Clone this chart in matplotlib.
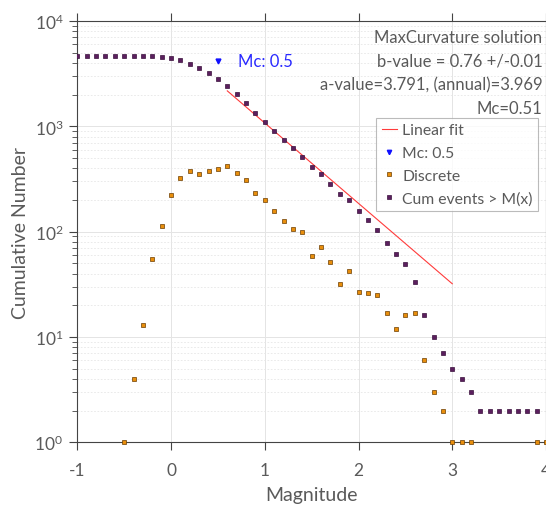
import numpy as np
import matplotlib
matplotlib.use("Agg")
import matplotlib.pyplot as plt
from matplotlib.ticker import LogLocator, NullFormatter

# =====================================
# Data
# =====================================

magnitude = np.round(np.arange(-1.0, 3.95, 0.1), 1)

cum_events = [
    4673, 4673, 4673, 4673, 4673, 4673, 4672, 4668, 4655, 4600,
    4486, 4263, 3937, 3560, 3207, 2827, 2430, 2012, 1650, 1338,
    1103, 903, 745, 618, 512, 413, 354, 282, 230, 198,
    156, 129, 103, 78, 61, 49, 33, 16, 10, 7,
    5, 4, 3, 2, 2, 2, 2, 2, 2, 2,
]

disc_mag = [
    -0.5, -0.4, -0.3, -0.2, -0.1, 0.0, 0.1, 0.2, 0.3, 0.4,
    0.5, 0.6, 0.7, 0.8, 0.9, 1.0, 1.1, 1.2, 1.3, 1.4,
    1.5, 1.6, 1.7, 1.8, 1.9, 2.0, 2.1, 2.2, 2.3, 2.4,
    2.5, 2.6, 2.7, 2.8, 2.9, 3.0, 3.1, 3.2, 3.9, 4.0,
]
disc_events = [
    1, 4, 13, 55, 114, 223, 326, 377, 353, 380,
    397, 418, 362, 312, 235, 200, 158, 127, 106, 99,
    59, 72, 52, 32, 42, 27, 26, 25, 17, 12,
    16, 17, 6, 3, 2, 1, 1, 1, 1, 1,
]

fit_mag = [0.6, 3.0]
fit_events = [2170, 32]

mc_mag = [0.5]
mc_events = [4200]

info_lines = [
    "MaxCurvature solution",
    "b-value = 0.76 +/-0.01",
    "a-value=3.791, (annual)=3.969",
    "Mc=0.51",
]

# =====================================
# Style
# =====================================

TEXT = "#5a5a5a"
plt.rcParams["font.family"] = ["Lato", "DejaVu Sans"]
plt.rcParams["mathtext.default"] = "regular"

fig = plt.figure(figsize=(5.46, 5.10), dpi=100)
ax = fig.add_axes([0.1416, 0.1308, 0.8584, 0.8261])

# =====================================
# Plot
# =====================================

ax.plot(fit_mag, fit_events, color="#ff3b3b", lw=0.8, label="Linear fit", zorder=3)
ax.plot(mc_mag, mc_events, "v", color="#1010ff", ms=3.5, ls="none",
        label="Mc: 0.5", zorder=4)
ax.plot(disc_mag, disc_events, "s", color="#e88e0c", mec="#6b3d00", mew=0.5,
        ms=3.0, ls="none", label="Discrete", zorder=4, clip_on=False)
ax.plot(magnitude, cum_events, "s", color="#5b1f5e", mec="#3a103c", mew=0.5,
        ms=3.0, ls="none", label="Cum events > M(x)", zorder=4)

ax.text(0.71, mc_events[0], "Mc: 0.5", color="#2a2aff", fontsize=12,
        va="center", ha="left")

for i, line in enumerate(info_lines):
    ax.text(0.992, 0.982 - i * 0.0565, line, transform=ax.transAxes,
            ha="right", va="top", fontsize=12, color=TEXT)

# =====================================
# Axes
# =====================================

ax.set_yscale("log")
ax.set_xlim(-1, 4)
ax.set_ylim(1, 1e4)
ax.set_xticks([-1, 0, 1, 2, 3, 4])
ax.set_xticklabels(["-1", "0", "1", "2", "3", "4"])
ax.yaxis.set_major_locator(LogLocator(base=10, numticks=10))
ax.yaxis.set_minor_locator(LogLocator(base=10, subs=np.arange(2, 10), numticks=10))
ax.yaxis.set_minor_formatter(NullFormatter())

ax.tick_params(axis="both", which="major", direction="out", length=6,
               width=0.8, colors="#444444", labelcolor=TEXT, labelsize=12.5,
               top=True, right=True)
ax.tick_params(axis="x", which="major", pad=8)
ax.tick_params(axis="y", which="major", pad=4)
ax.tick_params(axis="y", which="minor", direction="out", length=3.5,
               width=0.6, colors="#444444", right=True)

ax.grid(True, which="major", color="#e4e4e4", lw=0.7)
ax.grid(True, which="minor", axis="y", color="#e6e6e6", lw=0.6, ls=(0, (2, 2)))
ax.set_axisbelow(True)

for s in ax.spines.values():
    s.set_color("#444444")
    s.set_linewidth(0.8)

ax.set_xlabel("Magnitude", fontsize=14, color=TEXT, labelpad=6)
ax.set_ylabel("Cumulative Number", fontsize=14, color=TEXT, labelpad=4)

leg = ax.legend(loc="upper right", bbox_to_anchor=(0.983, 0.77),
                fontsize=11.3, frameon=True, fancybox=False,
                handlelength=1.0, handletextpad=0.3, borderpad=0.35,
                labelspacing=0.55, borderaxespad=0, markerscale=0.9)
leg.get_frame().set_edgecolor("#aaaaaa")
leg.get_frame().set_linewidth(0.8)
for t in leg.get_texts():
    t.set_color(TEXT)

plt.savefig("out.png", dpi=100)
plt.close()
